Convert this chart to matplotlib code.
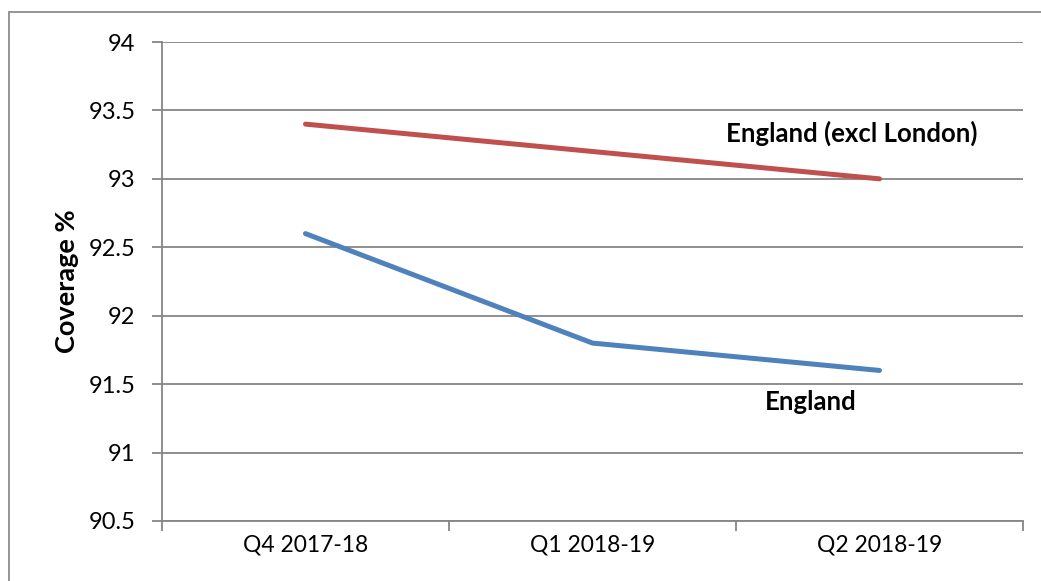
import matplotlib
matplotlib.use("Agg")
import matplotlib.pyplot as plt
from matplotlib.patches import Rectangle

plt.rcParams["font.family"] = ["Lato", "DejaVu Sans"]

# ---------------------- Data ---------------------------
quarters = ["Q4 2017-18", "Q1 2018-19", "Q2 2018-19"]
england_excl_london = [93.4, 93.2, 93.0]
england = [92.6, 91.8, 91.6]
y_ticks = [90.5, 91, 91.5, 92, 92.5, 93, 93.5, 94]
y_tick_labels = ["90.5", "91", "91.5", "92", "92.5", "93", "93.5", "94"]

# ---------------------- Figure ---------------------------
fig = plt.figure(figsize=(10.41, 5.81), dpi=100)
ax = fig.add_axes([0.1556, 0.1033, 0.8271, 0.8244])

# outer chart border (runs off the right and bottom edge)
fig.patches.append(Rectangle((9 / 1041, -0.1), 1.2, 1 - 12 / 581 + 0.1,
                             transform=fig.transFigure, fill=False,
                             edgecolor="#8c8c8c", linewidth=1.3))

x = list(range(len(quarters)))
ax.plot(x, england_excl_london, color="#C0504D", linewidth=3.6,
        solid_capstyle="round")
ax.plot(x, england, color="#4F81BD", linewidth=3.6, solid_capstyle="round")

# ---------------------- Axes styling ---------------------------
ax.set_xlim(-0.5, 2.5)
ax.set_ylim(90.5, 94)
ax.set_yticks(y_ticks)
ax.set_yticklabels(y_tick_labels, fontsize=17)
ax.set_xticks(x)
ax.set_xticklabels(quarters, fontsize=16.5)
ax.tick_params(axis="x", length=0, pad=10)
ax.set_xticks([-0.5, 0.5, 1.5, 2.5], minor=True)
ax.tick_params(axis="x", which="minor", length=7, width=1.3, color="#868686")
ax.tick_params(axis="y", length=7, width=1.3, color="#868686", pad=12)
ax.yaxis.grid(True, color="#868686", linewidth=1.3)
ax.set_axisbelow(True)

for side in ["top", "right"]:
    ax.spines[side].set_visible(False)
for side in ["left", "bottom"]:
    ax.spines[side].set_color("#868686")
    ax.spines[side].set_linewidth(1.3)

ax.set_ylabel("Coverage %", fontsize=19.5, fontweight="bold", labelpad=7)

# ---------------------- Series labels ---------------------------
ax.text(1.905, 93.33, "England (excl London)", fontsize=18.5, fontweight="bold",
        ha="center", va="center")
ax.text(1.76, 91.37, "England", fontsize=18.5, fontweight="bold",
        ha="center", va="center")

fig.savefig("out.png", dpi=100)
